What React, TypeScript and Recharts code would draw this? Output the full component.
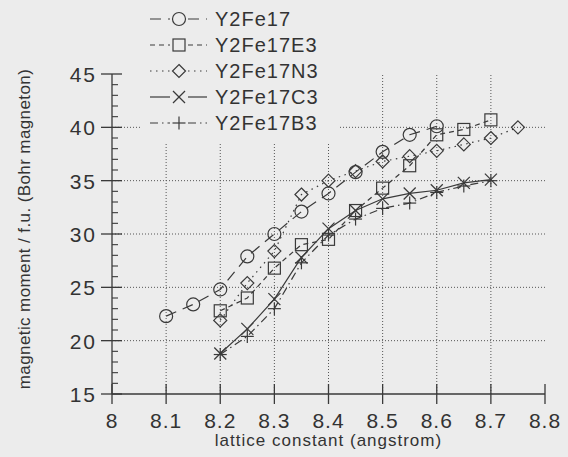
import React from 'react';
import { LineChart, Line, XAxis, YAxis, ReferenceLine, Legend } from 'recharts';

// ---- data ----
const Y2FE17_X = [8.1, 8.15, 8.2, 8.25, 8.3, 8.35, 8.4, 8.45, 8.5, 8.55, 8.6];
const Y2FE17_Y = [22.3, 23.4, 24.8, 27.9, 30.0, 32.1, 33.8, 35.8, 37.7, 39.3, 40.1];

const E3_X = [8.2, 8.25, 8.3, 8.35, 8.4, 8.45, 8.5, 8.55, 8.6, 8.65, 8.7];
const E3_Y = [22.8, 24.0, 26.8, 29.0, 29.5, 32.2, 34.3, 36.4, 39.3, 39.8, 40.7];

const N3_X = [8.2, 8.25, 8.3, 8.35, 8.4, 8.45, 8.5, 8.55, 8.6, 8.65, 8.7, 8.75];
const N3_Y = [21.9, 25.4, 28.4, 33.7, 35.0, 35.9, 36.8, 37.3, 37.8, 38.4, 39.0, 40.0];

const C3_X = [8.2, 8.25, 8.3, 8.35, 8.4, 8.45, 8.5, 8.55, 8.6, 8.65, 8.7];
const C3_Y = [18.8, 21.1, 23.9, 27.8, 30.5, 32.2, 33.3, 33.8, 34.1, 34.8, 35.1];

const B3_X = [8.2, 8.25, 8.3, 8.35, 8.4, 8.45, 8.5, 8.55, 8.6, 8.65, 8.7];
const B3_Y = [18.7, 20.4, 23.0, 27.3, 29.9, 31.4, 32.4, 32.9, 33.9, 34.5, 35.0];

const SERIES_NAMES = ['Y2Fe17', 'Y2Fe17E3', 'Y2Fe17N3', 'Y2Fe17C3', 'Y2Fe17B3'];

const X_TICKS = [8, 8.1, 8.2, 8.3, 8.4, 8.5, 8.6, 8.7, 8.8];
const X_GRID = [8.1, 8.2, 8.3, 8.4, 8.5, 8.6, 8.7];
const Y_MINOR = [15, 16, 17, 18, 19, 20, 21, 22, 23, 24, 25, 26, 27, 28, 29, 30, 31, 32, 33, 34, 35, 36, 37, 38, 39, 40, 41, 42, 43, 44, 45];
const Y_GRID = [20, 25, 30, 35, 40];

const X_LABEL = 'lattice constant (angstrom)';
const Y_LABEL = 'magnetic moment / f.u. (Bohr magneton)';

// ---- styles ----
const BG = '#ececec';
const INK = '#3a3a3a';
const TXT = '#333333';
const FONT = '"Liberation Sans", Arial, Helvetica, sans-serif';

const toPts = (xs: number[], ys: number[]) => xs.map((x, i) => ({ x, y: ys[i] }));

type MarkerKind = 'circle' | 'square' | 'diamond' | 'cross' | 'plus';

const Marker = ({ kind, cx, cy }: { kind: MarkerKind; cx: number; cy: number }) => {
  const s = { stroke: INK, strokeWidth: 1.2, fill: 'none' } as const;
  switch (kind) {
    case 'circle':
      return <circle cx={cx} cy={cy} r={6.5} {...s} />;
    case 'square':
      return <rect x={cx - 6} y={cy - 6} width={12} height={12} {...s} />;
    case 'diamond':
      return <polygon points={`${cx},${cy - 6.5} ${cx + 6.5},${cy} ${cx},${cy + 6.5} ${cx - 6.5},${cy}`} {...s} />;
    case 'cross':
      return (
        <g {...s}>
          <line x1={cx - 6} y1={cy - 6} x2={cx + 6} y2={cy + 6} />
          <line x1={cx - 6} y1={cy + 6} x2={cx + 6} y2={cy - 6} />
        </g>
      );
    case 'plus':
    default:
      return (
        <g {...s}>
          <line x1={cx - 6.5} y1={cy} x2={cx + 6.5} y2={cy} />
          <line x1={cx} y1={cy - 6.5} x2={cx} y2={cy + 6.5} />
        </g>
      );
  }
};

const SERIES = [
  { name: SERIES_NAMES[0], data: toPts(Y2FE17_X, Y2FE17_Y), kind: 'circle' as MarkerKind, dash: '11 7' },
  { name: SERIES_NAMES[1], data: toPts(E3_X, E3_Y), kind: 'square' as MarkerKind, dash: '5 4' },
  { name: SERIES_NAMES[2], data: toPts(N3_X, N3_Y), kind: 'diamond' as MarkerKind, dash: '1.5 4.5' },
  { name: SERIES_NAMES[3], data: toPts(C3_X, C3_Y), kind: 'cross' as MarkerKind, dash: undefined },
  { name: SERIES_NAMES[4], data: toPts(B3_X, B3_Y), kind: 'plus' as MarkerKind, dash: '8 4 1.5 4' },
];

const makeDot = (kind: MarkerKind, name: string) => (p: any) => {
  if (p.cx == null || p.cy == null) return <g key={`${name}-${p.index}`} />;
  return (
    <g key={`${name}-${p.index}`}>
      <Marker kind={kind} cx={p.cx} cy={p.cy} />
    </g>
  );
};

const fmtX = (v: number) => (v === 8 ? '8' : v.toFixed(1));

const BottomTick = (p: any) => {
  const { x, y, payload } = p;
  return (
    <g>
      <line x1={x} x2={x} y1={y - 10} y2={y + 10} stroke={INK} strokeWidth={1.3} />
      <text x={x} y={y + 34} textAnchor="middle" fontSize={21} letterSpacing={1} fill={TXT} fontFamily={FONT}>
        {fmtX(payload.value)}
      </text>
    </g>
  );
};

const TopTick = (p: any) => {
  const { x, y } = p;
  return <line x1={x} x2={x} y1={y - 10} y2={y + 8} stroke={INK} strokeWidth={1.3} />;
};

const LeftTick = (p: any) => {
  const { x, y, payload } = p;
  const v = payload.value as number;
  const major = v % 5 === 0;
  return (
    <g>
      {major ? (
        <line x1={x - 11} x2={x + 10} y1={y} y2={y} stroke={INK} strokeWidth={1.3} />
      ) : (
        <line x1={x} x2={x + 6} y1={y} y2={y} stroke={INK} strokeWidth={1.1} />
      )}
      {major && (
        <text x={x - 15} y={y + 8} textAnchor="end" fontSize={21} letterSpacing={2} fill={TXT} fontFamily={FONT}>
          {v}
        </text>
      )}
    </g>
  );
};

const RightTick = (p: any) => {
  const { x, y, payload } = p;
  const v = payload.value as number;
  const major = v % 5 === 0;
  return major ? (
    <line x1={x - 10} x2={x + 11} y1={y} y2={y} stroke={INK} strokeWidth={1.3} />
  ) : (
    <line x1={x - 6} x2={x} y1={y} y2={y} stroke={INK} strokeWidth={1.1} />
  );
};

const LegendBox = () => (
  <div style={{ position: 'relative', width: 200, height: 138, background: BG }}>
    {SERIES.map((s, i) => (
      <div
        key={s.name}
        style={{ position: 'absolute', left: 0, top: 1 + i * 26, height: 26, display: 'flex', alignItems: 'center' }}
      >
        <svg width={75} height={26} style={{ display: 'block' }}>
          <line x1={10} x2={30} y1={13} y2={13} stroke={INK} strokeWidth={1.2} strokeDasharray={s.dash} />
          <line x1={48} x2={67} y1={13} y2={13} stroke={INK} strokeWidth={1.2} strokeDasharray={s.dash} />
          <Marker kind={s.kind} cx={39} cy={13} />
        </svg>
        <span style={{ fontFamily: FONT, fontSize: 20, letterSpacing: 1, color: TXT, lineHeight: '26px', whiteSpace: 'nowrap' }}>
          {s.name}
        </span>
      </div>
    ))}
  </div>
);

export default function App() {
  return (
    <div style={{ position: 'absolute', left: 0, top: 0, width: 568, height: 457, background: BG }}>
      <LineChart width={568} height={457} margin={{ top: 74, right: 23, left: 52, bottom: 23 }}>
        <XAxis
          xAxisId="b"
          dataKey="x"
          type="number"
          domain={[8, 8.8]}
          ticks={X_TICKS}
          interval={0}
          allowDuplicatedCategory={false}
          height={40}
          tickSize={0}
          tickMargin={0}
          tickLine={false}
          axisLine={{ stroke: INK, strokeWidth: 1.3 }}
          tick={BottomTick}
          label={{
            content: (lp: any) => {
              const vb = lp.viewBox || { x: 112, y: 394, width: 433 };
              return (
                <text x={vb.x + vb.width / 2} y={vb.y + 52} textAnchor="middle" fontSize={17} letterSpacing={1} fill={TXT} fontFamily={FONT}>
                  {X_LABEL}
                </text>
              );
            },
          }}
        />
        <XAxis
          xAxisId="t"
          orientation="top"
          dataKey="x"
          type="number"
          domain={[8, 8.8]}
          ticks={X_TICKS}
          interval={0}
          allowDuplicatedCategory={false}
          height={0}
          tickSize={0}
          tickMargin={0}
          tickLine={false}
          axisLine={{ stroke: INK, strokeWidth: 1.3 }}
          tick={TopTick}
        />
        <YAxis
          yAxisId="l"
          type="number"
          domain={[15, 45]}
          ticks={Y_MINOR}
          interval={0}
          width={60}
          tickSize={0}
          tickMargin={0}
          tickLine={false}
          axisLine={{ stroke: INK, strokeWidth: 1.3 }}
          tick={LeftTick}
          label={{
            content: (lp: any) => {
              const vb = lp.viewBox || { x: 52, y: 74, width: 60, height: 320 };
              const cx = 24;
              const cy = vb.y + vb.height / 2 - 5;
              return (
                <text x={cx} y={cy} transform={`rotate(-90 ${cx} ${cy})`} dy={6} textAnchor="middle" fontSize={17} letterSpacing={0.4} fill={TXT} fontFamily={FONT}>
                  {Y_LABEL}
                </text>
              );
            },
          }}
        />
        <YAxis
          yAxisId="r"
          orientation="right"
          type="number"
          domain={[15, 45]}
          ticks={Y_MINOR}
          interval={0}
          width={0}
          tickSize={0}
          tickMargin={0}
          tickLine={false}
          axisLine={{ stroke: INK, strokeWidth: 1.3 }}
          tick={RightTick}
        />
        {X_GRID.map((v) => (
          <ReferenceLine key={`gx${v}`} x={v} xAxisId="b" yAxisId="l" stroke="#555" strokeWidth={1} strokeDasharray="1 2" />
        ))}
        {Y_GRID.map((v) => (
          <ReferenceLine key={`gy${v}`} y={v} xAxisId="b" yAxisId="l" stroke="#555" strokeWidth={1} strokeDasharray="1 2" />
        ))}
        {SERIES.map((s) => (
          <Line
            key={s.name}
            xAxisId="b"
            yAxisId="l"
            data={s.data}
            dataKey="y"
            name={s.name}
            type="linear"
            stroke={INK}
            strokeWidth={1.2}
            strokeDasharray={s.dash}
            dot={makeDot(s.kind, s.name)}
            activeDot={false}
            isAnimationActive={false}
          />
        ))}
        <Legend
          layout="vertical"
          align="center"
          verticalAlign="middle"
          content={() => <LegendBox />}
          wrapperStyle={{ left: 140, top: 5, width: 200, height: 138 }}
        />
      </LineChart>
    </div>
  );
}
